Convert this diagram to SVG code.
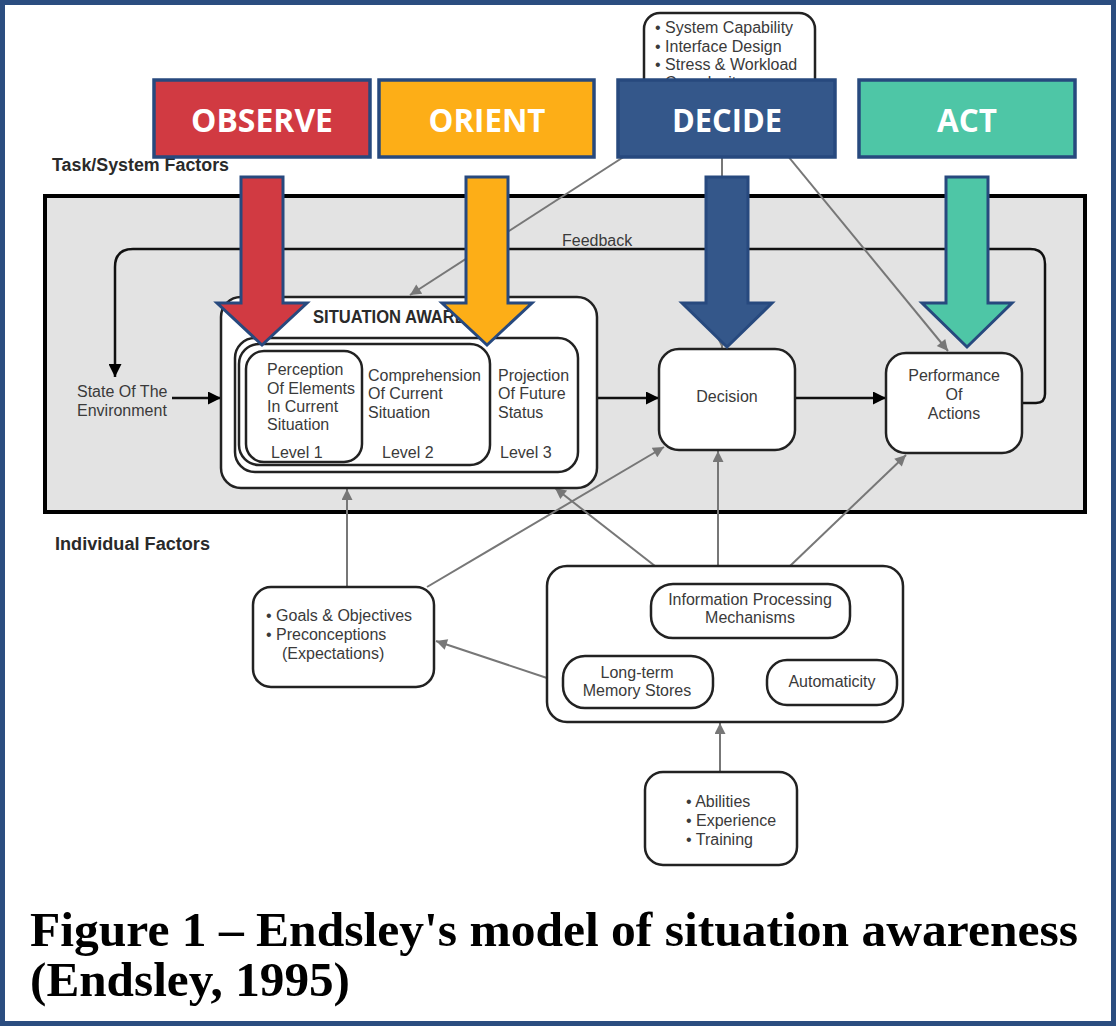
<svg xmlns="http://www.w3.org/2000/svg" width="1116" height="1026" viewBox="0 0 1116 1026">
<defs>
<style>
.t{font-family:"Liberation Sans",Arial,sans-serif;font-size:16px;fill:#3a3a3a}
.tb{font-family:"Liberation Sans",Arial,sans-serif;font-size:18px;font-weight:bold;fill:#2a2a2a}
.box{fill:#fff;stroke:#222;stroke-width:2.5}
.gl{stroke:#777;stroke-width:2;fill:none}
.bl{stroke:#111;stroke-width:2.5;fill:none}
.hdr{stroke:#27497e;stroke-width:3.5}
.ht{font-family:"Open Sans","Liberation Sans",sans-serif;font-weight:bold;font-size:33px;fill:#fff}
.big{stroke:#27497e;stroke-width:3;stroke-linejoin:miter}
.cap{font-family:"Liberation Serif","Times New Roman",serif;font-weight:bold;font-size:48px;fill:#000}
</style>
<marker id="ga" viewBox="0 0 10 10" markerUnits="userSpaceOnUse" markerWidth="15" markerHeight="11" refX="10" refY="5" orient="auto"><path d="M0,0 L10,5 L0,10 z" fill="#777"/></marker>
<marker id="ba" viewBox="0 0 10 10" markerUnits="userSpaceOnUse" markerWidth="23" markerHeight="13" refX="10" refY="5" orient="auto"><path d="M0,0 L10,5 L0,10 z" fill="#000"/></marker>
</defs>
<rect x="0" y="0" width="1116" height="1026" fill="#fff"/>

<g id="task-system-factors-label"><text class="tb" x="52" y="171" textLength="177" lengthAdjust="spacingAndGlyphs">Task/System Factors</text></g>

<g id="system-panel"><rect x="45" y="196" width="1040" height="316" fill="#e3e3e3" stroke="#000" stroke-width="4"/></g>

<g id="individual-factors-label"><text class="tb" x="55" y="550" textLength="155" lengthAdjust="spacingAndGlyphs">Individual Factors</text></g>

<g id="task-factors">
<rect class="box" x="644" y="13" width="171" height="92" rx="16"/>
<text class="t" x="655" y="33">• System Capability</text>
<text class="t" x="655" y="52">• Interface Design</text>
<text class="t" x="655" y="70">• Stress &amp; Workload</text>
<text class="t" x="655" y="88">• Complexity</text>
</g>

<g id="connectors">
<path class="bl" d="M1022,403 L1036,403 Q1045,403 1045,394 L1045,264 Q1045,249 1030,249 L133,249 Q115,249 115,267 L115,377" marker-end="url(#ba)"/>
<line class="bl" x1="172" y1="398" x2="221" y2="398" marker-end="url(#ba)"/>
<line class="bl" x1="597" y1="398" x2="659" y2="398" marker-end="url(#ba)"/>
<line class="bl" x1="795" y1="398" x2="886" y2="398" marker-end="url(#ba)"/>
<line class="gl" x1="704" y1="105" x2="410" y2="295" marker-end="url(#ga)"/>
<line class="gl" x1="722" y1="105" x2="722" y2="348" marker-end="url(#ga)"/>
<line class="gl" x1="746" y1="105" x2="948" y2="351" marker-end="url(#ga)"/>
<line class="gl" x1="347" y1="587" x2="347" y2="489" marker-end="url(#ga)"/>
<line class="gl" x1="427" y1="587" x2="664" y2="447" marker-end="url(#ga)"/>
<line class="gl" x1="655" y1="566" x2="555" y2="488" marker-end="url(#ga)"/>
<line class="gl" x1="718" y1="566" x2="718" y2="451" marker-end="url(#ga)"/>
<line class="gl" x1="790" y1="566" x2="906" y2="455" marker-end="url(#ga)"/>
<line class="gl" x1="547" y1="678" x2="436" y2="641" marker-end="url(#ga)"/>
<line class="gl" x1="720" y1="772" x2="720" y2="723" marker-end="url(#ga)"/>
</g>

<g id="feedback-label"><text class="t" x="562" y="246" font-size="15">Feedback</text></g>

<g id="state-environment">
<text class="t" x="77" y="397" font-size="15">State Of The</text>
<text class="t" x="77" y="416" font-size="15">Environment</text>
</g>

<g id="situation-awareness">
<rect class="box" x="221" y="297" width="376" height="191" rx="20"/>
<text class="tb" x="313" y="323" font-size="17" textLength="198" lengthAdjust="spacingAndGlyphs" fill="#222">SITUATION AWARENESS</text>
<rect class="box" x="235" y="338" width="343" height="134" rx="20"/>
<rect class="box" x="239" y="344" width="251" height="121" rx="20"/>
<rect class="box" x="246" y="351" width="116" height="111" rx="18" stroke-width="3"/>
<text class="t" x="267" y="375" font-size="15">Perception</text>
<text class="t" x="267" y="394" font-size="15">Of Elements</text>
<text class="t" x="267" y="412" font-size="15">In Current</text>
<text class="t" x="267" y="430" font-size="15">Situation</text>
<text class="t" x="271" y="458" font-size="15">Level 1</text>
<text class="t" x="368" y="381">Comprehension</text>
<text class="t" x="368" y="399">Of Current</text>
<text class="t" x="368" y="418">Situation</text>
<text class="t" x="382" y="458" font-size="15">Level 2</text>
<text class="t" x="498" y="381">Projection</text>
<text class="t" x="498" y="399">Of Future</text>
<text class="t" x="498" y="418">Status</text>
<text class="t" x="500" y="458" font-size="15">Level 3</text>
</g>

<g id="decision">
<rect class="box" x="659" y="349" width="136" height="101" rx="20"/>
<text class="t" x="727" y="402" text-anchor="middle">Decision</text>
</g>

<g id="performance">
<rect class="box" x="886" y="353" width="136" height="100" rx="20"/>
<text class="t" x="954" y="381" text-anchor="middle">Performance</text>
<text class="t" x="954" y="400" text-anchor="middle">Of</text>
<text class="t" x="954" y="419" text-anchor="middle">Actions</text>
</g>

<g id="goals">
<rect class="box" x="253" y="587" width="181" height="100" rx="18"/>
<text class="t" x="266" y="621">• Goals &amp; Objectives</text>
<text class="t" x="266" y="640">• Preconceptions</text>
<text class="t" x="282" y="659">(Expectations)</text>
</g>

<g id="individual-abilities">
<rect class="box" x="547" y="566" width="356" height="156" rx="20"/>
</g>

<g id="information-processing">
<rect class="box" x="651" y="584" width="199" height="54" rx="22"/>
<text class="t" x="750" y="605" text-anchor="middle">Information Processing</text>
<text class="t" x="750" y="623" text-anchor="middle">Mechanisms</text>
</g>

<g id="long-term-memory">
<rect class="box" x="563" y="656" width="150" height="52" rx="22"/>
<text class="t" x="637" y="678" text-anchor="middle">Long-term</text>
<text class="t" x="637" y="696" text-anchor="middle">Memory Stores</text>
</g>

<g id="automaticity">
<rect class="box" x="767" y="660" width="130" height="45" rx="20"/>
<text class="t" x="832" y="687" text-anchor="middle">Automaticity</text>
</g>

<g id="abilities">
<rect class="box" x="645" y="772" width="152" height="93" rx="18"/>
<text class="t" x="686" y="807">• Abilities</text>
<text class="t" x="686" y="826">• Experience</text>
<text class="t" x="686" y="845">• Training</text>
</g>

<g id="observe">
<rect class="hdr" x="154" y="80" width="216" height="77" fill="#d13a42"/>
<text class="ht" x="262" y="132" text-anchor="middle" textLength="142" lengthAdjust="spacingAndGlyphs">OBSERVE</text>
</g>
<g id="orient">
<rect class="hdr" x="379" y="80" width="215" height="77" fill="#fdae17"/>
<text class="ht" x="487" y="132" text-anchor="middle" textLength="117" lengthAdjust="spacingAndGlyphs">ORIENT</text>
</g>
<g id="decide">
<rect class="hdr" x="618" y="80" width="217" height="77" fill="#34578a"/>
<text class="ht" x="727" y="132" text-anchor="middle" textLength="110" lengthAdjust="spacingAndGlyphs">DECIDE</text>
</g>
<g id="act">
<rect class="hdr" x="859" y="80" width="216" height="77" fill="#4ec6a6"/>
<text class="ht" x="967" y="132" text-anchor="middle" textLength="60" lengthAdjust="spacingAndGlyphs">ACT</text>
</g>

<g id="ooda-arrows">
<polygon class="big" fill="#d13a42" points="241,177 283,177 283,303 307,303 262,345 217,303 241,303"/>
<polygon class="big" fill="#fdae17" points="466,177 508,177 508,303 532,303 487,345 442,303 466,303"/>
<polygon class="big" fill="#34578a" points="706,177 748,177 748,303 772,303 727,347 682,303 706,303"/>
<polygon class="big" fill="#4ec6a6" points="946,177 988,177 988,303 1012,303 967,347 922,303 946,303"/>
</g>

<g id="caption">
<text class="cap" x="30" y="946" textLength="1048" lengthAdjust="spacingAndGlyphs">Figure 1 – Endsley's model of situation awareness</text>
<text class="cap" x="30" y="996" textLength="320" lengthAdjust="spacingAndGlyphs">(Endsley, 1995)</text>
</g>

<rect x="2.5" y="2.5" width="1111" height="1021" fill="none" stroke="#2b4d80" stroke-width="5"/>
</svg>
